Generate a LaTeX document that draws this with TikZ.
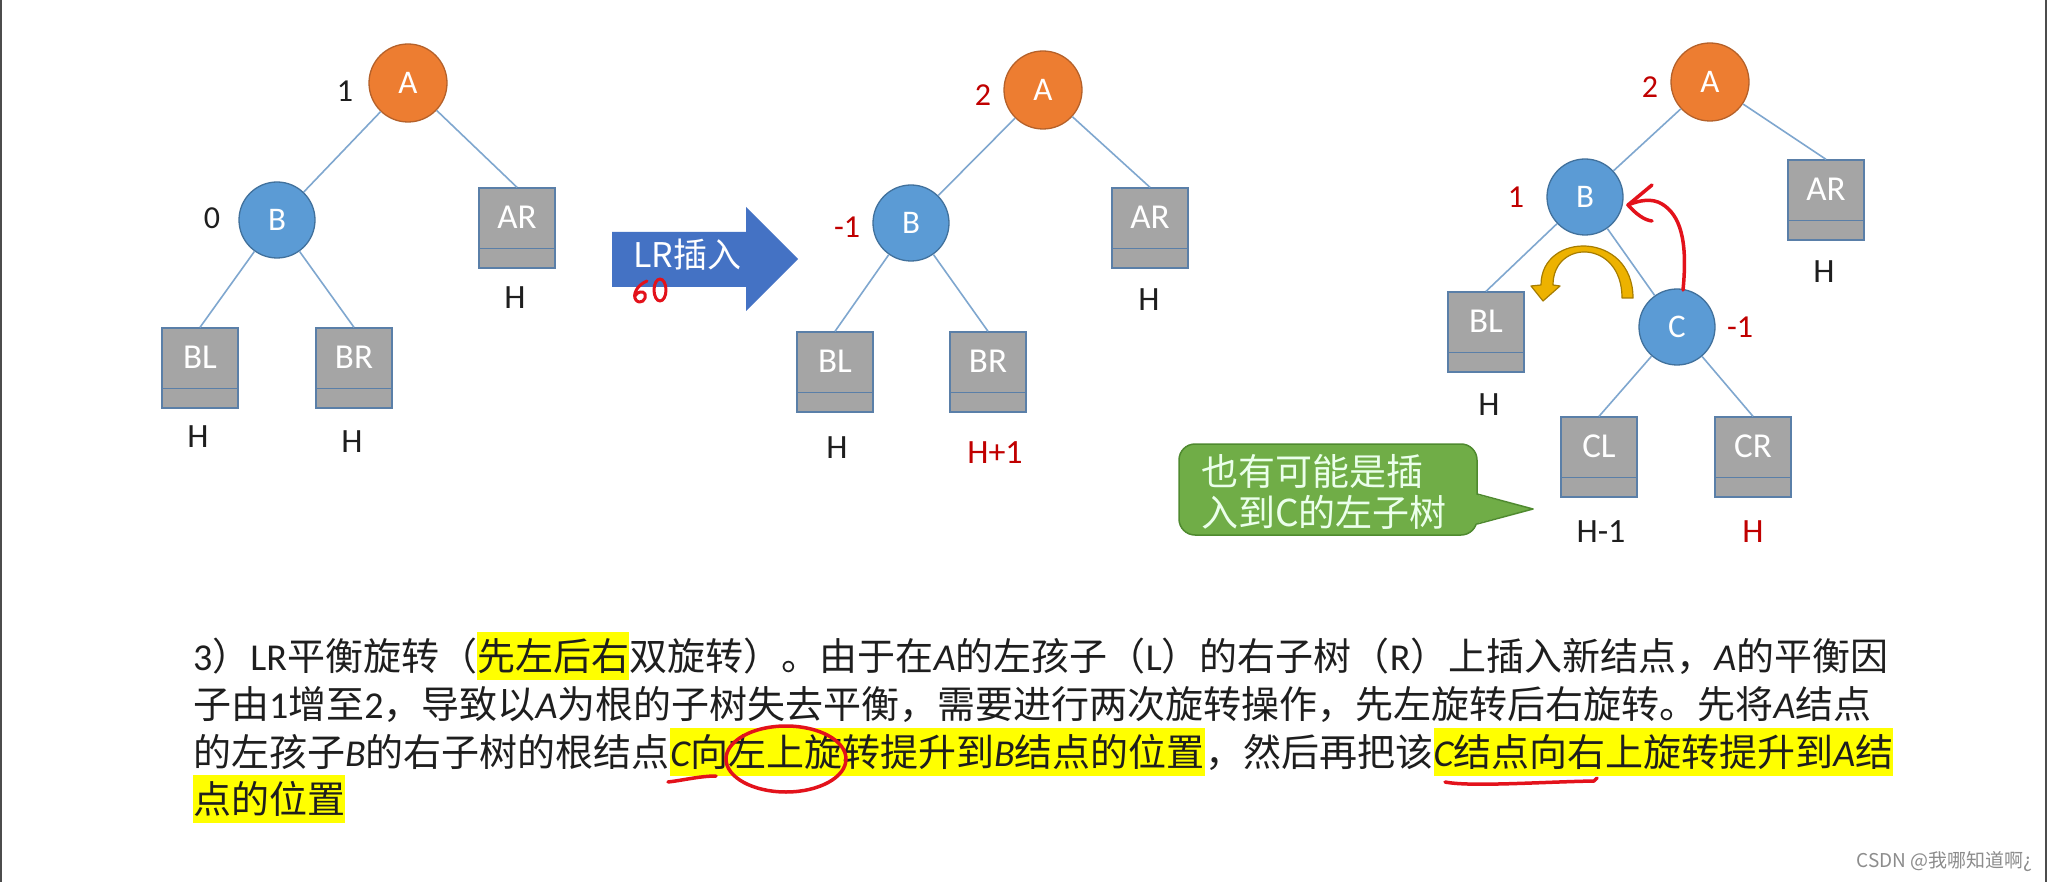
\documentclass[tikz,border=0pt]{standalone}
\usepackage{fontspec}
\setmainfont{Carlito}
\newfontfamily\cjk{Noto Sans CJK SC}
\newfontfamily\lat{Carlito}
\newcommand\mylat[1]{{\lat #1}}
\newcommand\myit[1]{{\lat\itshape #1}}
\newcommand\paraf{\cjk\fontsize{38}{46}\selectfont}
\definecolor{orangeA}{HTML}{ED7D31}
\definecolor{orangeBd}{HTML}{B5612A}
\definecolor{blueN}{HTML}{5B9BD5}
\definecolor{blueBd}{HTML}{41719C}
\definecolor{boxGray}{HTML}{A5A5A5}
\definecolor{boxBd}{HTML}{5A7FA8}
\definecolor{edgeC}{HTML}{7FA7CF}
\definecolor{arrowBlue}{HTML}{4472C4}
\definecolor{darkRed}{HTML}{C00000}
\definecolor{penRed}{HTML}{E3121B}
\definecolor{hlYellow}{HTML}{FFFF00}
\definecolor{calloutG}{HTML}{70AD47}
\definecolor{calloutBd}{HTML}{4F8A2F}
\definecolor{goldF}{HTML}{EDB200}
\definecolor{goldBd}{HTML}{A67C00}
\definecolor{inkC}{HTML}{1E1E1E}
\tikzset{
  rootnode/.style={circle, fill=orangeA, draw=orangeBd, line width=1.3pt, minimum size=78pt, inner sep=0pt, text=white, font=\fontsize{33}{33}\selectfont},
  innode/.style={circle, fill=blueN, draw=blueBd, line width=1.3pt, minimum size=76pt, inner sep=0pt, text=white, font=\fontsize{33}{33}\selectfont},
  subtree/.style={rectangle, fill=boxGray, draw=boxBd, line width=1.3pt, minimum width=76pt, minimum height=80pt, inner sep=0pt},
  subtext/.style={text=white, font=\fontsize{35}{35}\selectfont, inner sep=0pt},
  divline/.style={draw=boxBd, line width=1.3pt},
  edge/.style={draw=edgeC, line width=1.6pt},
  hlab/.style={text=inkC, font=\fontsize{34}{34}\selectfont, inner sep=0pt},
  rlab/.style={text=darkRed, font=\fontsize{34}{34}\selectfont, inner sep=0pt},
  bal/.style={text=inkC, font=\fontsize{32}{32}\selectfont, inner sep=0pt},
  rbal/.style={text=darkRed, font=\fontsize{32}{32}\selectfont, inner sep=0pt},
  redpen/.style={draw=penRed, line width=3.5pt, line cap=round, line join=round},
  ptext/.style={anchor=base west, inner sep=0pt, text height=38pt, text depth=10pt, font=\paraf, text=inkC},
  hl/.style={ptext, fill=hlYellow},
}
\begin{document}
\begin{tikzpicture}[x=1pt, y=-1pt]
\useasboundingbox (0,0) rectangle (2048,882);
\fill[white] (0,0) rectangle (2048,882);
\draw[line width=2pt, draw=black!70] (1,0) -- (1,882);
\draw[line width=2pt, draw=black!70] (2046,0) -- (2046,882);

% ---------- Tree 1 ----------
\node[rootnode] (aA) at (408,83) {A};
\node[innode] (aB) at (277,220) {B};
\node[subtree] (aAR) at (517,228) {};
\node[subtree] (aBL) at (200,368) {};
\node[subtree] (aBR) at (354,368) {};
\draw[edge] (aA) -- (aB);
\draw[edge] (aA) -- (aAR.north);
\draw[edge] (aB) -- (aBL.north);
\draw[edge] (aB) -- (aBR.north);
\node[bal] (aAbal) at (345,91) {1};
\node[bal] (aBbal) at (212,218) {0};
\node[hlab] (aARh) at (515,298) {H};
\node[hlab] (aBLh) at (198,437) {H};
\node[hlab] (aBRh) at (352,442) {H};

% ---------- Arrow ----------
\fill[arrowBlue] (612,232) -- (746,232) -- (746,207) -- (798,259) -- (746,311) -- (746,287) -- (612,287) -- cycle;
\node[anchor=west, inner sep=0pt, text=white, font=\cjk\fontsize{34}{34}\selectfont] (ins) at (633,255) {LR插入};
\draw[redpen, line width=3pt] (647,281) .. controls (637,285) and (632,295) .. (636,300) .. controls (640,305) and (647,300) .. (645,294) .. controls (643,290) and (637,292) .. (635,296);
\draw[redpen, line width=3pt] (660,290) ellipse [x radius=6pt, y radius=11pt];

% ---------- Tree 2 ----------
\node[rootnode] (bA) at (1043,90) {A};
\node[innode] (bB) at (911,223) {B};
\node[subtree] (bAR) at (1150,228) {};
\node[subtree] (bBL) at (835,372) {};
\node[subtree] (bBR) at (988,372) {};
\draw[edge] (bA) -- (bB);
\draw[edge] (bA) -- (bAR.north);
\draw[edge] (bB) -- (bBL.north);
\draw[edge] (bB) -- (bBR.north);
\node[rbal] (bAbal) at (983,95) {2};
\node[rbal] (bBbal) at (847,227) {-1};
\node[hlab] (bARh) at (1149,300) {H};
\node[hlab] (bBLh) at (837,448) {H};
\node[rlab] (bBRh) at (995,453) {H+1};

% ---------- Tree 3 ----------
\node[rootnode] (cA) at (1710,82) {A};
\node[innode] (cB) at (1585,197) {B};
\node[innode] (cC) at (1677,327) {C};
\node[subtree] (cAR) at (1826,200) {};
\node[subtree] (cBL) at (1486,332) {};
\node[subtree] (cCL) at (1599,457) {};
\node[subtree] (cCR) at (1753,457) {};
\draw[edge] (cA) -- (cB);
\draw[edge] (cA) -- (cAR.north);
\draw[edge] (cB) -- (cBL.north);
\draw[edge] (cB) -- (cC);
\draw[edge] (cC) -- (cCL.north);
\draw[edge] (cC) -- (cCR.north);
\node[rbal] (cAbal) at (1650,87) {2};
\node[rbal] (cBbal) at (1516,197) {1};
\node[rbal] (cCbal) at (1740,327) {-1};
\node[hlab] (cARh) at (1824,272) {H};
\node[hlab] (cBLh) at (1489,405) {H};
\node[hlab] (cCLh) at (1601,532) {H-1};
\node[rlab] (cCRh) at (1753,532) {H};

% box labels and dividers
\foreach \b/\t in {aAR/AR,aBL/BL,aBR/BR,bAR/AR,bBL/BL,bBR/BR,cAR/AR,cBL/BL,cCL/CL,cCR/CR}{
  \draw[divline] ([yshift=20pt]\b.south west) -- ([yshift=20pt]\b.south east);
  \node[subtext] (\b t) at ([yshift=-30pt]\b.north) {\t};
}

% golden curved arrow
\draw[fill=goldF, draw=goldBd, line width=1.2pt, line join=round]
  (1622,298) -- (1633,298) .. controls (1633,231) and (1541,231) .. (1541,285)
  -- (1531,286) -- (1543,301) -- (1560,286) -- (1553,285)
  .. controls (1553,239) and (1622,239) .. (1622,298) -- cycle;

% red hand-drawn arrow from C to B
\coordinate (redS) at (1683,290);
\coordinate (redT) at (1628,205);
\draw[redpen] (redS) .. controls (1688,240) and (1680,215) .. (1662,204) .. controls (1652,198) and (1640,200) .. (redT);
\draw[redpen] (1652,185) -- (redT) .. controls (1636,214) and (1644,220) .. (1652,221);

% callout
\node[rectangle, rounded corners=16pt, fill=calloutG, draw=calloutBd, line width=1.5pt, minimum width=298pt, minimum height=91pt, inner sep=0pt] (call) at (1328,489.5) {};
\fill[calloutG] (1474,494) -- (1533,509) -- (1474,524) -- cycle;
\draw[draw=calloutBd, line width=1.5pt, line join=round] (1477,494) -- (1533,509) -- (1477,524);
\node[align=left, inner sep=0pt, text=white!92!green, font=\cjk\fontsize{37}{41}\selectfont] (callt) at (1324,492) {也有可能是插\\入到C的左子树};

% ---------- paragraph ----------
\node[ptext] (p1a) at (193,670) {\mylat{3}）\mylat{LR}平衡旋转（};
\node[hl] (p1b) at (p1a.base east) {先左后右};
\node[ptext] (p1c) at (p1b.base east) {双旋转）。由于在\myit{A}的左孩子（\mylat{L}）的右子树（\mylat{R}）上插入新结点，\myit{A}的平衡因};
\node[ptext] (p2) at (193,718) {子由\mylat{1}增至\mylat{2}，导致以\myit{A}为根的子树失去平衡，需要进行两次旋转操作，先左旋转后右旋转。先将\myit{A}结点};
\node[ptext] (p3a) at (193,766) {的左孩子\myit{B}的右子树的根结点};
\node[hl] (p3b) at (p3a.base east) {\myit{C}向左上旋转提升到\myit{B}结点的位置};
\node[ptext] (p3c) at (p3b.base east) {，然后再把该};
\node[hl] (p3d) at (p3c.base east) {\myit{C}结点向右上旋转提升到\myit{A}结};
\node[hl] (p4) at (193,813) {点的位置};

% red pen marks on paragraph
\draw[redpen] (668,782) .. controls (685,780) and (700,776) .. (716,776);
\draw[redpen] (786,759) ellipse [x radius=60pt, y radius=33pt];
\draw[redpen] (1445,782) .. controls (1470,787) and (1540,782) .. (1594,781) -- (1597,778);

% watermark
\node[anchor=east, inner sep=0pt, text=black!45, font=\cjk\fontsize{19}{19}\selectfont] (wm) at (2033,862) {CSDN @我哪知道啊¿};
\end{tikzpicture}
\end{document}
